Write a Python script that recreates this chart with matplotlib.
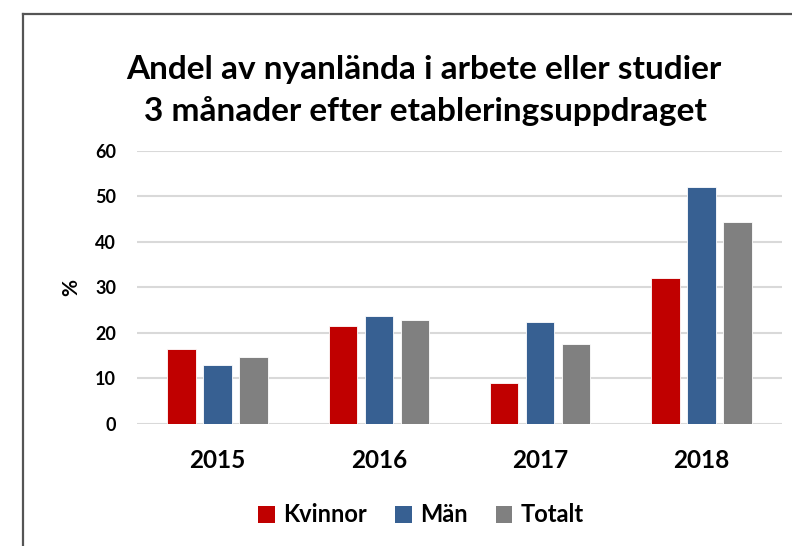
import matplotlib
matplotlib.use("Agg")
import matplotlib.pyplot as plt
from matplotlib.lines import Line2D
from matplotlib.patches import Patch
import numpy as np

years = ["2015", "2016", "2017", "2018"]
kvinnor = [16.5, 21.6, 8.9, 32.1]
man = [13.0, 23.7, 22.3, 52.0]
totalt = [14.7, 22.8, 17.6, 44.3]
series_names = ["Kvinnor", "Män", "Totalt"]
colors = ["#C00000", "#376092", "#808080"]

plt.rcParams['font.family'] = ['Lato', 'DejaVu Sans']
plt.rcParams['font.weight'] = 'bold'

W, H = 792, 546
fig = plt.figure(figsize=(W / 100, H / 100), dpi=100)
ax = fig.add_axes([137 / W, 1 - 424 / H, 645 / W, (424 - 150.7) / H])

x = np.arange(len(years))
bw = 0.177
step = 0.223
for i, (vals, c, name) in enumerate(zip([kvinnor, man, totalt], colors, series_names)):
    ax.bar(x + (i - 1) * step, vals, width=bw, color=c, edgecolor='white',
           linewidth=0.6, label=name, zorder=3)

ax.set_xlim(-0.5, 3.5)
ax.set_ylim(0, 60)
ax.set_yticks(range(0, 61, 10))
ax.yaxis.grid(True, color='#d9d9d9', linewidth=1.5, zorder=0)
ax.set_axisbelow(True)
for s in ax.spines.values():
    s.set_visible(False)
ax.tick_params(axis='both', length=0)
ax.tick_params(axis='y', labelsize=13, pad=15)
ax.tick_params(axis='x', labelsize=17.5, pad=18)
ax.set_xticks(x)
ax.set_xticklabels(years, fontweight='bold')
for t in ax.get_yticklabels():
    t.set_fontweight('bold')

fig.text(71 / W, 1 - 287 / H, "%", rotation=90, ha='center', va='center',
         fontsize=15, fontweight='bold')

fig.text(424 / W, 1 - 69 / H, "Andel av nyanlända i arbete eller studier",
         ha='center', va='center', fontsize=24, fontweight='bold')
fig.text(425 / W, 1 - 111 / H, "3 månader efter etableringsuppdraget",
         ha='center', va='center', fontsize=24, fontweight='bold')

handles = [Patch(facecolor=c, edgecolor='none') for c in colors]
fig.legend(handles, series_names, loc='center', bbox_to_anchor=(421 / W, 1 - 515 / H),
           ncol=3, frameon=False, handlelength=0.7, handleheight=0.7,
           handletextpad=0.35, columnspacing=1.2, prop={'weight': 'bold', 'size': 17})

fig.add_artist(Line2D([23 / W, 23 / W], [0, 1 - 14 / H], color='#555555', linewidth=1.6))
fig.add_artist(Line2D([23 / W, 1], [1 - 14 / H, 1 - 14 / H], color='#555555', linewidth=1.6))

fig.savefig("out.png", dpi=100)
